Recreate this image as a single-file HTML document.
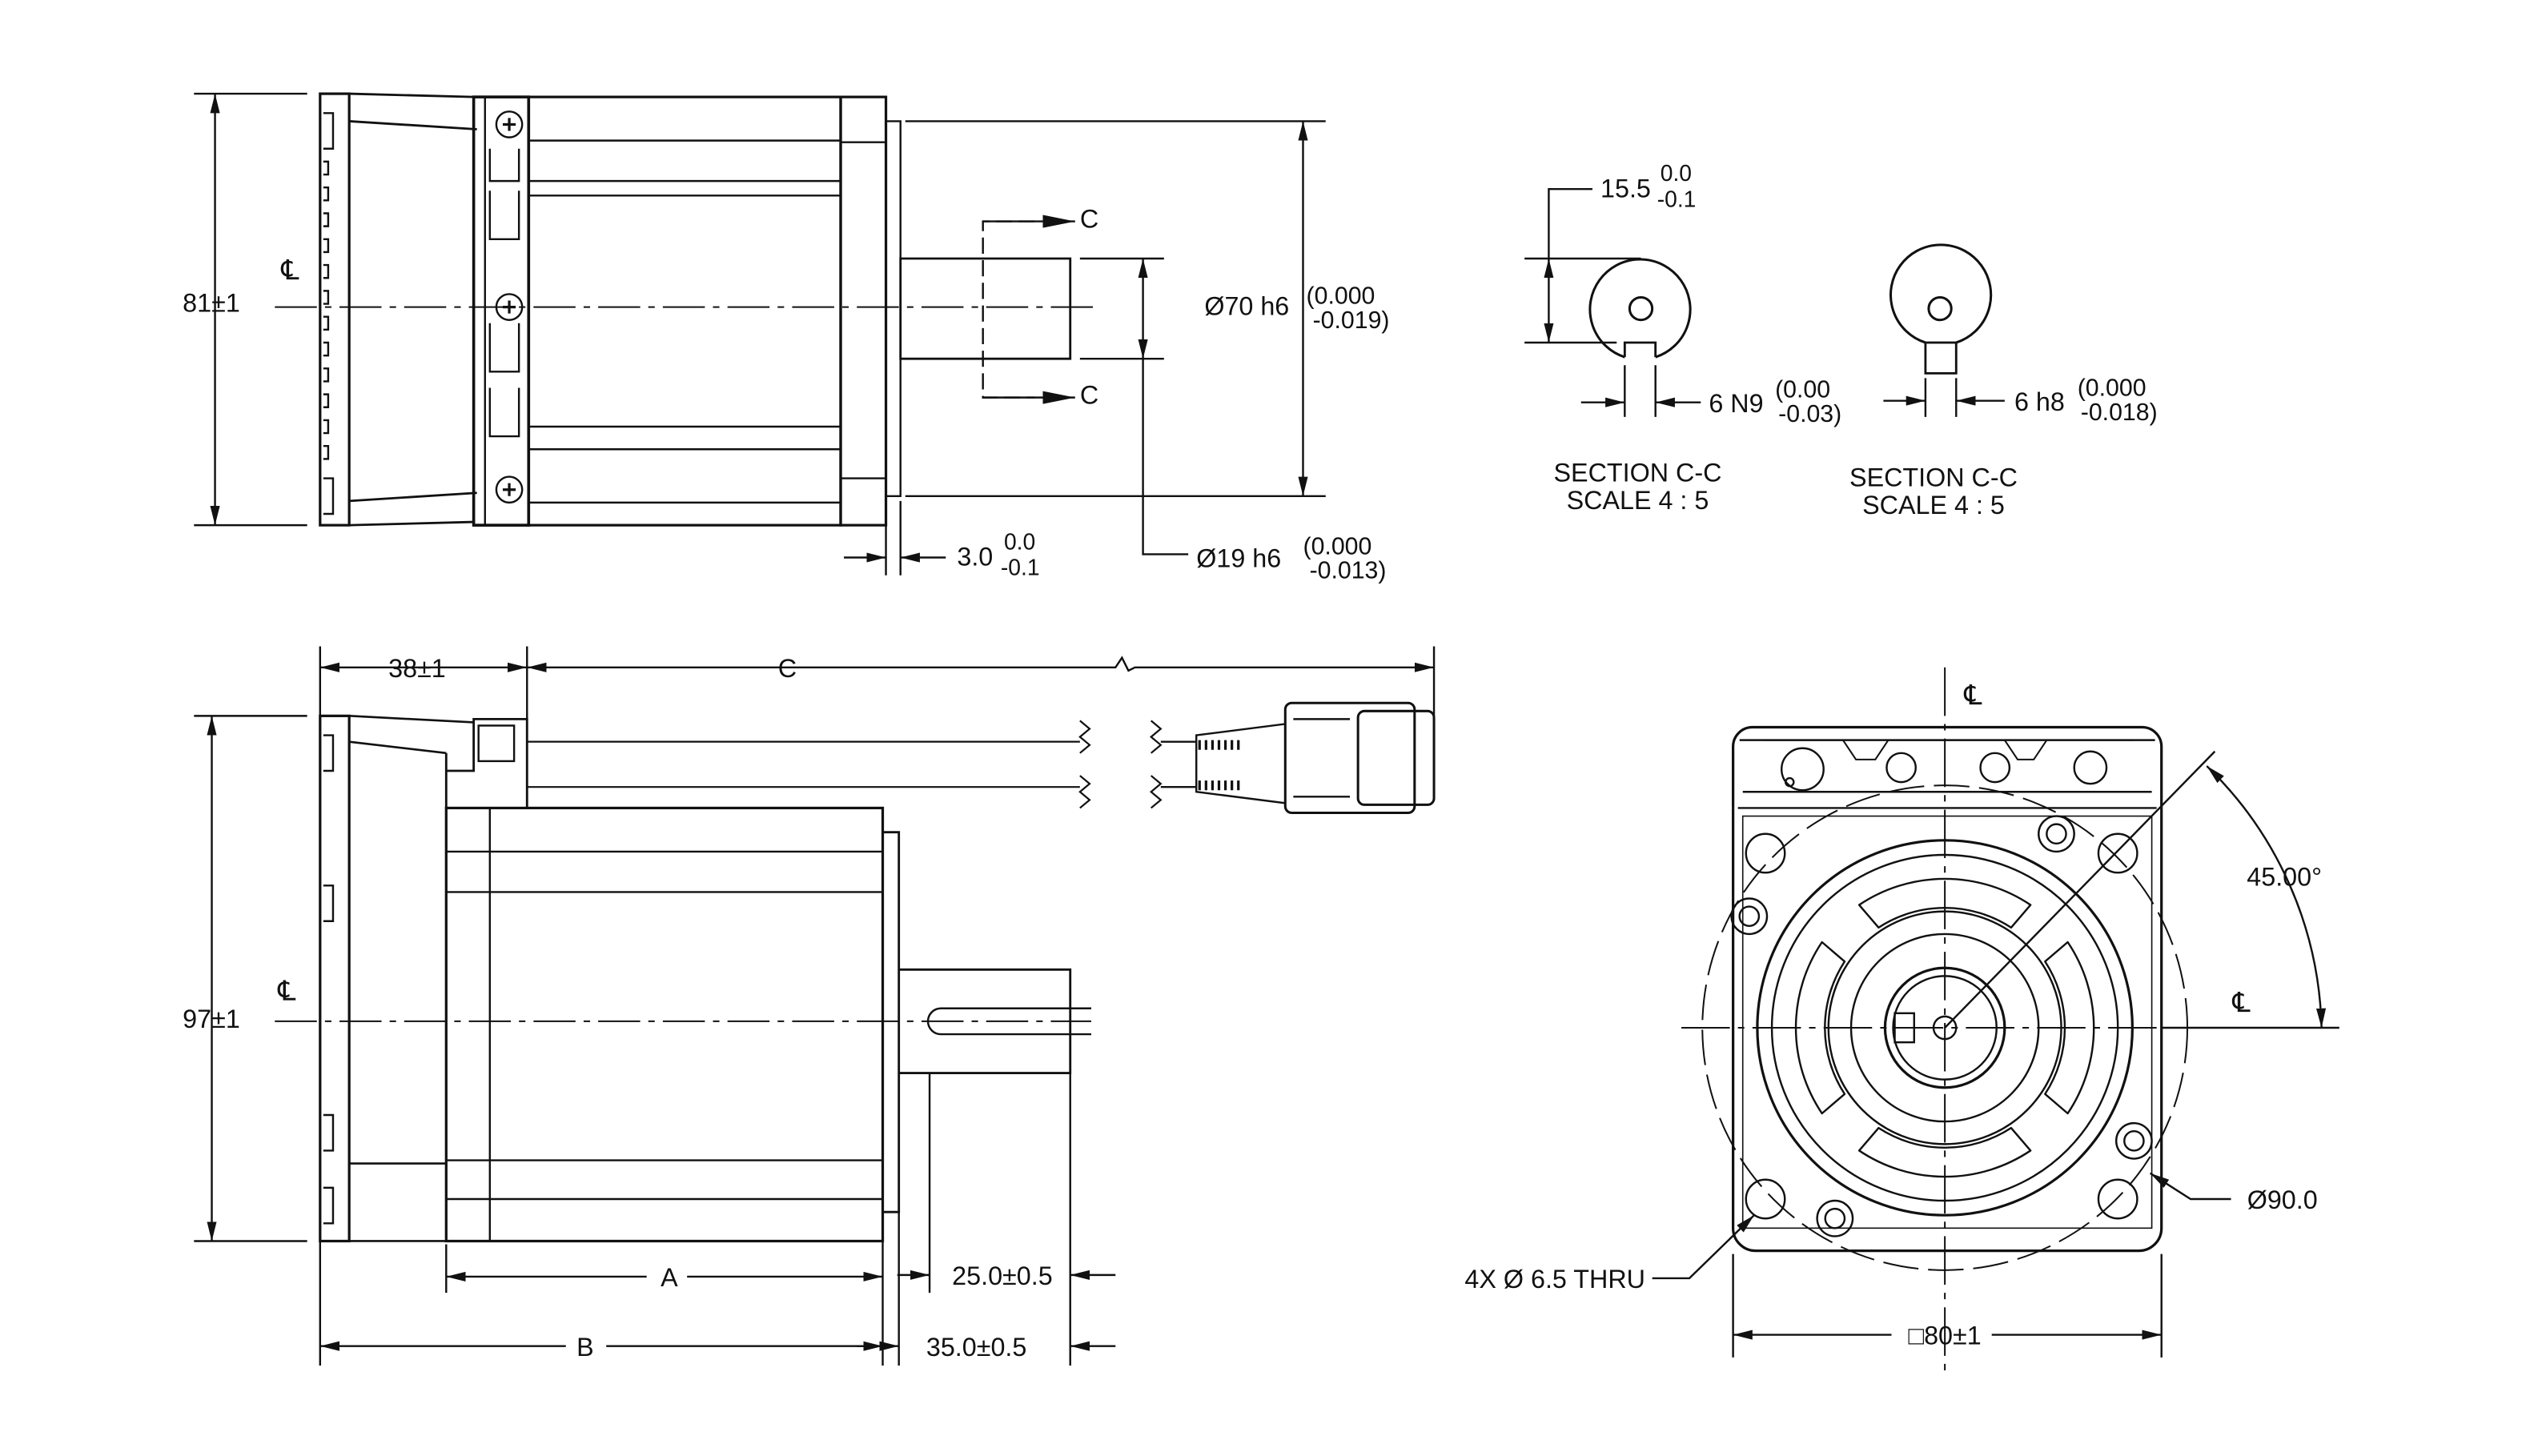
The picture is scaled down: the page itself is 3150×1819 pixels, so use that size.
<!DOCTYPE html>
<html><head><meta charset="utf-8"><style>
html,body{margin:0;padding:0;background:#fff;}
svg{display:block}
text{font-family:"Liberation Sans",sans-serif;fill:#111;}
</style></head><body>
<svg width="3150" height="1819" viewBox="0 0 1560 901" preserveAspectRatio="none" xmlns="http://www.w3.org/2000/svg">
<defs>
<marker id="a" viewBox="0 0 12 6" refX="12" refY="3" markerWidth="12" markerHeight="6" markerUnits="userSpaceOnUse" orient="auto-start-reverse"><path d="M0,0L12,3L0,6z" fill="#111"/></marker>
<marker id="b" viewBox="0 0 20 8" refX="20" refY="4" markerWidth="20" markerHeight="8" markerUnits="userSpaceOnUse" orient="auto"><path d="M0,0L20,4L0,8z" fill="#111"/></marker>
</defs>
<g fill="none" stroke="#111" stroke-width="1.2">
<!-- ===== TOP SIDE VIEW ===== -->
<line x1="120" y1="58" x2="190" y2="58"/><line x1="120" y1="325" x2="190" y2="325"/>
<line x1="133" y1="58" x2="133" y2="325" marker-start="url(#a)" marker-end="url(#a)"/>
<rect x="198" y="58" width="18" height="267" stroke-width="1.6"/>
<path d="M200,70h6v22h-6M200,296h6v22h-6" />
<path d="M200,100 h3 v8 h-3 m0,8 h3 v8 h-3 m0,8 h3 v8 h-3 m0,8 h3 v8 h-3 m0,8 h3 v8 h-3 m0,8 h3 v8 h-3 m0,8 h3 v8 h-3 m0,8 h3 v8 h-3 m0,8 h3 v8 h-3 m0,8 h3 v8 h-3 m0,8 h3 v8 h-3 m0,8 h3 v8 h-3"/>
<path d="M216,58L293,60M216,75L295,80M216,310L295,305M216,325L293,323" stroke-width="1.4"/>
<rect x="293" y="60" width="34" height="265" stroke-width="1.8"/>
<line x1="300" y1="60" x2="300" y2="325"/>
<path d="M303,92v20h18v-20M303,118v30h18v-30M303,200v30h18v-30M303,240v30h18v-30" />
<circle cx="315" cy="77" r="8"/><circle cx="315" cy="190" r="8"/><circle cx="315" cy="303" r="8"/>
<path d="M311,77h8M315,73v8M311,190h8M315,186v8M311,303h8M315,299v8" stroke-width="1.6"/>
<rect x="327" y="60" width="193" height="265" stroke-width="1.6"/>
<path d="M327,87H520M327,112H520M327,121H520M327,264H520M327,278H520M327,311H520"/>
<rect x="520" y="60" width="28" height="265" stroke-width="1.6"/>
<path d="M520,88H548M520,296H548"/>
<path d="M548,75h9v232h-9"/>
<path d="M557,160H662V222H557Z" stroke-width="1.4"/>
<line x1="170" y1="190" x2="680" y2="190" stroke-dasharray="26,5,4,5" stroke-width="1"/>
<path d="M640,137H608V246H640" stroke-dasharray="10,4"/>
<line x1="608" y1="137" x2="665" y2="137" marker-end="url(#b)"/>
<line x1="608" y1="246" x2="665" y2="246" marker-end="url(#b)"/>
<path d="M560,75H820M560,307H820M668,160H720M668,222H720"/>
<line x1="806" y1="75" x2="806" y2="307" marker-start="url(#a)" marker-end="url(#a)"/>
<line x1="707" y1="160" x2="707" y2="222" marker-start="url(#a)" marker-end="url(#a)"/>
<path d="M707,222V343H735"/>
<path d="M548,310V356M557,310V356"/>
<line x1="522" y1="345" x2="548" y2="345" marker-end="url(#a)"/>
<line x1="585" y1="345" x2="557" y2="345" marker-end="url(#a)"/>
<!-- ===== SECTIONS ===== -->
<path d="M1005,221 A31,31 0 1 1 1024,221" stroke-width="1.5"/>
<path d="M1005,221V212H1024V221" stroke-width="1.4"/>
<circle cx="1015" cy="191" r="7" stroke-width="1.5"/>
<path d="M943,160H1015M943,212H1000M958,160V117H985"/>
<line x1="958" y1="186" x2="958" y2="160" marker-end="url(#a)"/>
<line x1="958" y1="186" x2="958" y2="212" marker-end="url(#a)"/>
<path d="M1005,226V258M1024,226V258"/>
<line x1="978" y1="249" x2="1005" y2="249" marker-end="url(#a)"/>
<line x1="1052" y1="249" x2="1024" y2="249" marker-end="url(#a)"/>
<path d="M1191,212 A31,31 0 1 1 1210,212" stroke-width="1.5"/>
<rect x="1191" y="212" width="19" height="19" stroke-width="1.4"/>
<circle cx="1200" cy="191" r="7" stroke-width="1.5"/>
<path d="M1191,234V258M1210,234V258"/>
<line x1="1165" y1="248" x2="1191" y2="248" marker-end="url(#a)"/>
<line x1="1240" y1="248" x2="1210" y2="248" marker-end="url(#a)"/>
<!-- ===== BOTTOM SIDE VIEW ===== -->
<path d="M198,400V845M326,400V445M887,400V445"/>
<line x1="198" y1="413" x2="326" y2="413" marker-start="url(#a)" marker-end="url(#a)"/>
<path d="M326,413H690l4,-6l4,8l4,-2H887" marker-start="url(#a)" marker-end="url(#a)"/>
<rect x="198" y="443" width="18" height="325" stroke-width="1.6"/>
<path d="M200,455h6v22h-6M200,548h6v22h-6M200,690h6v22h-6M200,735h6v22h-6"/>
<path d="M216,443L293,447M216,459L276,466M216,720H276M216,768H276" stroke-width="1.3"/>
<path d="M276,466V500M276,477H293V445H326V500" stroke-width="1.4"/>
<rect x="296" y="449" width="22" height="22"/>
<rect x="276" y="500" width="270" height="268" stroke-width="1.6"/>
<path d="M303,500V768M276,527H546M276,552H546M276,718H546M276,742H546"/>
<path d="M546,515h10v235h-10" stroke-width="1.4"/>
<path d="M556,600H662V664H556" stroke-width="1.4"/>
<path d="M675,624H582a8,8 0 0 0 0,16H675"/>
<line x1="170" y1="632" x2="675" y2="632" stroke-dasharray="26,5,4,5" stroke-width="1"/>
<path d="M326,459H668M326,487H668M668,446l6,5l-6,5l6,5l-6,5M668,480l6,5l-6,5l6,5l-6,5M712,446l6,5l-6,5l6,5l-6,5M712,480l6,5l-6,5l6,5l-6,5" stroke-width="1.1"/>
<path d="M718,459H740M718,487H740"/>
<path d="M740,455L795,448V497L740,490Z" stroke-width="1.2"/>
<path d="M742,458v6m4,-6v6m4,-6v6m4,-6v6m4,-6v6m4,-6v6m4,-6v6M742,483v6m4,-6v6m4,-6v6m4,-6v6m4,-6v6m4,-6v6m4,-6v6" stroke-width="1.6"/>
<rect x="795" y="435" width="80" height="68" rx="4" stroke-width="1.5"/>
<rect x="840" y="440" width="47" height="58" rx="4" stroke-width="1.5"/>
<path d="M800,445h35M800,493h35"/>
<path d="M120,443H190M120,768H190"/>
<line x1="131" y1="443" x2="131" y2="768" marker-start="url(#a)" marker-end="url(#a)"/>
<path d="M276,770V800M546,750V845M556,750V845M575,664V800M662,664V845"/>
<line x1="400" y1="790" x2="276" y2="790" marker-end="url(#a)"/>
<line x1="425" y1="790" x2="546" y2="790" marker-end="url(#a)"/>
<line x1="350" y1="833" x2="198" y2="833" marker-end="url(#a)"/>
<line x1="375" y1="833" x2="546" y2="833" marker-end="url(#a)"/>
<line x1="555" y1="789" x2="575" y2="789" marker-end="url(#a)"/>
<line x1="690" y1="789" x2="662" y2="789" marker-end="url(#a)"/>
<line x1="530" y1="833" x2="556" y2="833" marker-end="url(#a)"/>
<line x1="690" y1="833" x2="662" y2="833" marker-end="url(#a)"/>
<!-- ===== FRONT VIEW ===== -->
<path d="M1072,500V760a14,14 0 0 0 14,14H1323a14,14 0 0 0 14,-14V500" stroke-width="1.6"/>
<path d="M1072,500V462a12,12 0 0 1 12,-12H1325a12,12 0 0 1 12,12V500" stroke-width="1.6"/>
<path d="M1075,500H1334M1076,458H1333M1078,490H1331"/>
<path d="M1078,505H1331V760H1078Z" stroke-width="0.8"/>
<path d="M1092,458L1140,458L1148,470H1160L1168,458H1240L1248,470H1258L1266,458H1320" stroke-width="1"/>
<circle cx="1115" cy="476" r="13"/><circle cx="1107" cy="484" r="2.5"/>
<circle cx="1176" cy="475" r="9"/><circle cx="1234" cy="475" r="9"/>
<circle cx="1293" cy="475" r="10"/>
<circle cx="1203" cy="636" r="150" stroke-dasharray="22,6" stroke-width="1"/>
<circle cx="1203" cy="636" r="116" stroke-width="1.6"/>
<circle cx="1203" cy="636" r="107"/>
<circle cx="1203" cy="636" r="72"/>
<circle cx="1203" cy="636" r="58"/>
<circle cx="1203" cy="636" r="37" stroke-width="1.6"/>
<circle cx="1203" cy="636" r="32"/>
<circle cx="1203" cy="636" r="7"/>
<rect x="1172" y="627" width="12" height="18"/>
<path d="M1150,560a95,95 0 0 1 106,0l-12,14a75,75 0 0 0 -82,0Z M1150,712a95,95 0 0 0 106,0l-12,-14a75,75 0 0 1 -82,0Z M1127,583a95,95 0 0 0 0,106l14,-12a75,75 0 0 1 0,-82Z M1279,583a95,95 0 0 1 0,106l-14,-12a75,75 0 0 0 0,-82Z" stroke-linejoin="round"/>
<circle cx="1092" cy="528" r="12"/><circle cx="1310" cy="528" r="12"/><circle cx="1092" cy="742" r="12"/><circle cx="1310" cy="742" r="12"/>
<circle cx="1272" cy="516" r="11"/><circle cx="1272" cy="516" r="6"/>
<circle cx="1082" cy="567" r="11"/><circle cx="1082" cy="567" r="6"/>
<circle cx="1320" cy="706" r="11"/><circle cx="1320" cy="706" r="6"/>
<circle cx="1135" cy="754" r="11"/><circle cx="1135" cy="754" r="6"/>
<line x1="1203" y1="413" x2="1203" y2="850" stroke-dasharray="30,5,4,5" stroke-width="1"/>
<line x1="1040" y1="636" x2="1337" y2="636" stroke-dasharray="30,5,4,5" stroke-width="1"/>
<line x1="1337" y1="636" x2="1447" y2="636"/>
<line x1="1203" y1="636" x2="1370" y2="465"/>
<path d="M1365,474A233,233 0 0 1 1436,636" marker-start="url(#a)" marker-end="url(#a)"/>
<path d="M1380,742H1355L1330,726" marker-end="url(#a)"/>
<path d="M1022,791H1045L1085,752" marker-end="url(#a)"/>
<path d="M1072,776V840M1337,776V840"/>
<line x1="1170" y1="826" x2="1072" y2="826" marker-end="url(#a)"/>
<line x1="1232" y1="826" x2="1337" y2="826" marker-end="url(#a)"/>
</g>
<g font-size="16">
<text x="113" y="193">81±1</text>
<text x="174" y="173" font-size="17">℄</text>
<text x="668" y="141">C</text><text x="668" y="250">C</text>
<text x="745" y="195">Ø70 h6</text>
<text x="808" y="188" font-size="15">(0.000</text><text x="812" y="203" font-size="15">-0.019)</text>
<text x="740" y="351">Ø19 h6</text>
<text x="806" y="343" font-size="15">(0.000</text><text x="810" y="358" font-size="15">-0.013)</text>
<text x="592" y="350">3.0</text><text x="621" y="340" font-size="14">0.0</text><text x="619" y="356" font-size="14">-0.1</text>
<text x="990" y="122">15.5</text><text x="1027" y="112" font-size="14">0.0</text><text x="1025" y="128" font-size="14">-0.1</text>
<text x="1057" y="255">6 N9</text><text x="1098" y="246" font-size="15">(0.00</text><text x="1100" y="261" font-size="15">-0.03)</text>
<text x="1246" y="254">6 h8</text><text x="1285" y="245" font-size="15">(0.000</text><text x="1287" y="260" font-size="15">-0.018)</text>
<text x="1013" y="298" text-anchor="middle">SECTION C-C</text><text x="1013" y="315" text-anchor="middle">SCALE 4 : 5</text>
<text x="1196" y="301" text-anchor="middle">SECTION C-C</text><text x="1196" y="318" text-anchor="middle">SCALE 4 : 5</text>
<text x="258" y="419" text-anchor="middle">38±1</text>
<text x="487" y="419" text-anchor="middle">C</text>
<text x="113" y="636">97±1</text>
<text x="172" y="619" font-size="17">℄</text>
<text x="414" y="796" text-anchor="middle">A</text>
<text x="362" y="839" text-anchor="middle">B</text>
<text x="620" y="795" text-anchor="middle">25.0±0.5</text>
<text x="604" y="839" text-anchor="middle">35.0±0.5</text>
<text x="1215" y="436" font-size="17">℄</text>
<text x="1381" y="626" font-size="17">℄</text>
<text x="1413" y="548" text-anchor="middle">45.00°</text>
<text x="1390" y="748">Ø90.0</text>
<text x="906" y="797">4X Ø 6.5 THRU</text>
<text x="1203" y="832" text-anchor="middle">□80±1</text>
</g>
</svg>
</body></html>
